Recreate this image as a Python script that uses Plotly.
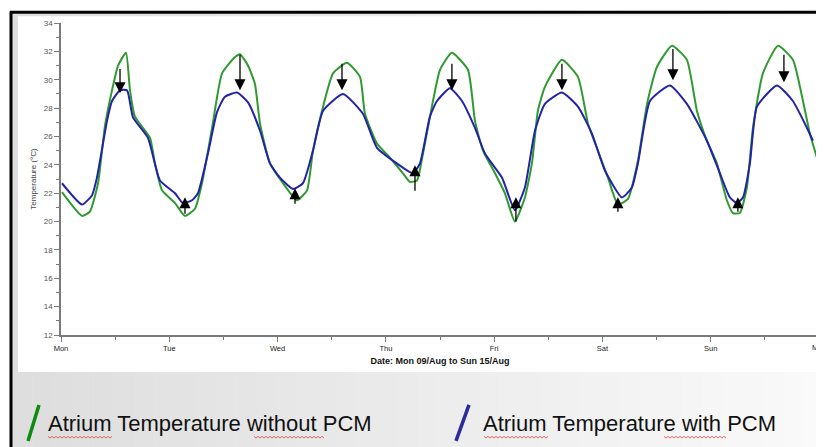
import plotly.graph_objects as go

# ---------------- data ----------------
day_labels = ["Mon", "Tue", "Wed", "Thu", "Fri", "Sat", "Sun"]
day_ticks = [0, 1, 2, 3, 4, 5, 6]
end_label = "Mon"          # label of the tick at the right edge (day 7), partly cut off
end_tick = 7

green_days = [0.009, 0.194, 0.267, 0.342, 0.407, 0.471, 0.527, 0.600, 0.637, 0.683,
              0.822, 0.868, 0.933, 1.053, 1.144, 1.237, 1.302, 1.395, 1.487, 1.607,
              1.653, 1.727, 1.791, 1.838, 1.930, 2.050, 2.179, 2.272, 2.327, 2.410,
              2.512, 2.641, 2.761, 2.807, 2.918, 3.038, 3.158, 3.222, 3.287, 3.343,
              3.425, 3.500, 3.610, 3.758, 3.823, 3.897, 4.008, 4.099, 4.192, 4.284,
              4.349, 4.404, 4.469, 4.626, 4.774, 4.867, 4.958, 5.051, 5.143, 5.236,
              5.328, 5.412, 5.503, 5.642, 5.780, 5.873, 5.965, 6.057, 6.149, 6.205,
              6.269, 6.334, 6.390, 6.482, 6.621, 6.759, 6.852, 6.916, 6.981]
green_temp = [22.07, 20.4, 20.7, 22.7, 26.8, 29.25, 31.0, 31.9, 29.25, 27.4,
              25.9, 24.1, 22.2, 21.3, 20.4, 20.9, 22.7, 26.6, 30.45, 31.6,
              31.8, 31.0, 29.7, 26.9, 24.1, 22.7, 21.5, 22.2, 25.0, 27.8,
              30.45, 31.2, 30.2, 27.6, 25.5, 24.5, 23.4, 22.8, 22.9, 24.8,
              28.1, 30.7, 31.9, 30.7, 27.1, 25.0, 23.4, 22.0, 20.0, 21.7,
              24.1, 27.8, 29.5, 31.4, 30.2, 26.9, 25.0, 23.1, 21.2, 21.6,
              24.3, 28.3, 30.9, 32.4, 31.4, 27.8, 25.7, 24.1, 21.5, 20.6,
              20.6, 22.4, 26.6, 30.45, 32.4, 31.4, 28.5, 26.2, 24.5]

blue_days = [0.009, 0.194, 0.287, 0.332, 0.425, 0.471, 0.545, 0.610, 0.665, 0.803,
             0.914, 1.053, 1.126, 1.210, 1.265, 1.357, 1.440, 1.514, 1.625, 1.727,
             1.838, 1.930, 2.022, 2.142, 2.234, 2.327, 2.419, 2.604, 2.788, 2.918,
             3.102, 3.250, 3.315, 3.407, 3.472, 3.592, 3.703, 3.823, 3.915, 4.072,
             4.192, 4.284, 4.377, 4.469, 4.626, 4.774, 4.903, 5.023, 5.180, 5.272,
             5.328, 5.439, 5.624, 5.780, 5.965, 6.085, 6.177, 6.242, 6.298, 6.362,
             6.427, 6.612, 6.759, 6.889, 6.944]
blue_temp = [22.7, 21.2, 21.86, 23.1, 27.1, 28.5, 29.25, 29.25, 27.35, 25.9,
             22.9, 22.0, 21.3, 21.5, 22.0, 24.8, 27.7, 28.8, 29.1, 28.4,
             26.4, 24.1, 23.1, 22.3, 22.7, 25.0, 27.8, 29.0, 27.6, 25.2,
             24.1, 23.4, 24.1, 27.4, 28.5, 29.4, 28.5, 26.6, 24.8, 23.1,
             20.8, 22.4, 26.4, 28.3, 29.1, 28.1, 26.2, 23.6, 21.7, 22.4,
             24.1, 28.5, 29.6, 28.3, 25.7, 23.4, 21.7, 21.3, 21.7, 24.1,
             28.1, 29.6, 28.5, 26.6, 25.7]

down_days = [0.545, 1.653, 2.595, 3.610, 4.626, 5.651, 6.676]
down_from = [30.87, 31.86, 31.23, 31.23, 31.23, 32.28, 31.86]
down_to = [29.04, 29.25, 29.25, 29.25, 29.25, 29.96, 29.82]

up_days = [1.145, 2.161, 3.269, 4.201, 5.143, 6.251]
up_from = [20.45, 21.15, 22.07, 19.89, 20.59, 20.59]
up_to = [21.72, 22.35, 23.97, 21.72, 21.72, 21.72]

series_names = ["Atrium Temperature without PCM", "Atrium Temperature with PCM"]

# ---------------- layout geometry ----------------
# the page body has an 8px margin, so the figure starts at (8, 8) of the window
OFF = 8
PAGE_W, PAGE_H = 824, 447
W, H = PAGE_W - OFF, PAGE_H - OFF
PL, PR, PT, PB = 61, 819, 22.7, 335          # plot area in window pixels
L, R, T, B = PL - OFF, PAGE_W - PR, PT - OFF, PAGE_H - PB
PW, PH = PR - PL, PB - PT


def px(xp):
    return (xp - PL) / PW


def py(yp):
    return (PB - yp) / PH


GREEN = "#2f9a2f"
BLUE = "#2323a8"

fig = go.Figure()
fig.add_trace(go.Scatter(x=green_days, y=green_temp, mode="lines", name=series_names[0],
                         line=dict(color=GREEN, width=2, shape="spline", smoothing=0.5)))
fig.add_trace(go.Scatter(x=blue_days, y=blue_temp, mode="lines", name=series_names[1],
                         line=dict(color=BLUE, width=2, shape="spline", smoothing=0.5)))

annotations = []
for d, f, t in list(zip(down_days, down_from, down_to)) + list(zip(up_days, up_from, up_to)):
    annotations.append(dict(x=d, y=t, ax=d, ay=f, xref="x", yref="y", axref="x", ayref="y",
                            text="", showarrow=True, arrowhead=2, arrowsize=1.7,
                            arrowwidth=1.3, arrowcolor="black", standoff=0, startstandoff=0))

shapes = []
# gray framed background with horizontal gradient
nb = 40
x0, x1 = 12, PAGE_W
for i in range(nb):
    a = x0 + (x1 - x0) * i / nb
    b = x0 + (x1 - x0) * (i + 1) / nb + 0.5
    c = int(222 + (250 - 222) * i / (nb - 1))
    shapes.append(dict(type="rect", xref="paper", yref="paper", x0=px(a), x1=px(b),
                       y0=py(PAGE_H + 2), y1=py(13), fillcolor=f"rgb({c},{c},{c})",
                       line=dict(width=0), layer="below"))
# white chart panel
shapes.append(dict(type="rect", xref="paper", yref="paper", x0=px(18), x1=px(PAGE_W + 2),
                   y0=py(372), y1=py(16), fillcolor="white", line=dict(width=0), layer="below"))
# black frame lines
shapes.append(dict(type="line", xref="paper", yref="paper", x0=px(10), x1=px(PAGE_W + 2),
                   y0=py(12), y1=py(12), line=dict(color="black", width=3), layer="above"))
shapes.append(dict(type="line", xref="paper", yref="paper", x0=px(11), x1=px(11),
                   y0=py(11), y1=py(PAGE_H + 2), line=dict(color="black", width=3), layer="above"))
# legend slashes
shapes.append(dict(type="line", xref="paper", yref="paper", x0=px(28), x1=px(39),
                   y0=py(441), y1=py(405), line=dict(color="#0f8a0f", width=3.5), layer="above"))
shapes.append(dict(type="line", xref="paper", yref="paper", x0=px(456), x1=px(469),
                   y0=py(441), y1=py(405), line=dict(color="#2b2b9c", width=3.5), layer="above"))


# red squiggly underlines
def squiggle(xa, xb, yb):
    pts = []
    xx = xa
    k = 0
    while xx <= xb:
        pts.append((px(xx), py(yb + (1.2 if k % 2 else -0.6))))
        xx += 2
        k += 1
    path = "M " + " L ".join(f"{p[0]:.5f},{p[1]:.5f}" for p in pts)
    return dict(type="path", xref="paper", yref="paper", path=path,
                line=dict(color="#e04040", width=0.8), layer="above")


for xa, xb in [(48, 112), (254, 324), (484, 548), (664, 726)]:
    shapes.append(squiggle(xa, xb, 437))

legend_font = dict(family="Liberation Sans, Arial, sans-serif", size=22, color="#111111")
annotations.append(dict(text=series_names[0], xref="paper", yref="paper", x=px(46), y=py(424),
                        xanchor="left", yanchor="middle", showarrow=False, font=legend_font))
annotations.append(dict(text=series_names[1], xref="paper", yref="paper", x=px(481), y=py(424),
                        xanchor="left", yanchor="middle", showarrow=False, font=legend_font))

axis_col = "#7a7a7a"
tick_font = dict(family="Liberation Sans", size=7.5, color="#222222")
# right-edge tick label, drawn where the axis would put it (it is cut by the page edge)
annotations.append(dict(text=end_label, xref="x", yref="paper", x=end_tick, y=py(348),
                        xanchor="center", yanchor="middle", showarrow=False, font=tick_font))

fig.update_layout(
    width=W, height=H, autosize=False,
    margin=dict(l=L, r=R, t=T, b=B, pad=0),
    paper_bgcolor="white", plot_bgcolor="rgba(0,0,0,0)",
    showlegend=False,
    shapes=shapes, annotations=annotations,
    xaxis=dict(range=[0, 7], tickmode="array", tickvals=day_ticks + [end_tick],
               ticktext=day_labels + [""],
               showgrid=False, zeroline=False, showline=True, linecolor=axis_col, linewidth=1.5,
               ticks="outside", ticklen=5, tickcolor=axis_col, tickwidth=1,
               tickfont=tick_font,
               minor=dict(tickmode="array", tickvals=[0.5, 1.5, 2.5, 3.5, 4.5, 5.5, 6.5],
                          ticks="outside", ticklen=3, tickcolor=axis_col),
               title=dict(text="<b>Date: Mon 09/Aug to Sun 15/Aug</b>", standoff=6,
                          font=dict(family="Liberation Sans", size=9, color="#111111"))),
    yaxis=dict(range=[12, 34], tickmode="linear", tick0=12, dtick=2,
               showgrid=False, zeroline=False, showline=True, linecolor=axis_col, linewidth=1.5,
               ticks="outside", ticklen=5, tickcolor=axis_col, tickwidth=1,
               tickfont=dict(family="Liberation Sans", size=8, color="#555555"),
               minor=dict(dtick=1, ticks="outside", ticklen=3, tickcolor=axis_col),
               title=dict(text="Temperature (°C)", standoff=6,
                          font=dict(family="Liberation Sans", size=8, color="#444444"))),
)

fig.write_html("out.html")
